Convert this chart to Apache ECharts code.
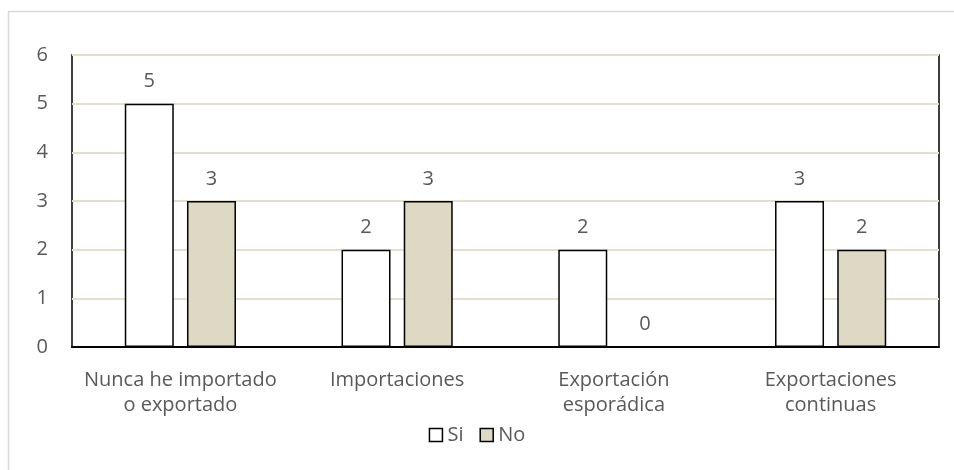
<!DOCTYPE html>
<html><head><meta charset="utf-8">
<script src="https://cdn.jsdelivr.net/npm/echarts@6/dist/echarts.min.js"></script>
<style>html,body{margin:0;padding:0;background:#fff}#c{width:954px;height:470px}</style>
</head><body><div id="c"></div>
<script>
const categories = ["Nunca he importado\no exportado", "Importaciones", "Exportación\nesporádica", "Exportaciones\ncontinuas"];
const siValues = [5, 2, 2, 3];
const noValues = [3, 3, 0, 2];
const yTicks = [0, 1, 2, 3, 4, 5, 6];

const font = "'Open Sans', sans-serif";
const txt = "#595959";
const fs = 20;
const chart = echarts.init(document.getElementById('c'), null, {renderer: 'canvas'});
chart.setOption({
  animation: false,
  textStyle: {fontFamily: font},
  graphic: [{type: 'rect', shape: {x: 8.5, y: 11.5, width: 960, height: 470}, style: {fill: 'none', stroke: '#d9d9d9', lineWidth: 1.5}, silent: true}],
  grid: {left: 72, right: 15, top: 55, bottom: 123, show: true, borderColor: '#000', borderWidth: 1.5, backgroundColor: 'transparent'},
  legend: {
    bottom: 20, left: 'center', itemWidth: 13, itemHeight: 13, itemGap: 16,
    textStyle: {color: txt, fontSize: fs, fontFamily: font, padding: [0, 0, 0, 0]},
    data: [{name: 'Si', icon: 'rect', itemStyle: {color: '#fff', borderColor: '#000', borderWidth: 1.5}},
           {name: 'No', icon: 'rect', itemStyle: {color: '#ddd9c4', borderColor: '#000', borderWidth: 1.5}}]
  },
  xAxis: {
    type: 'category', data: categories,
    axisLine: {show: true, lineStyle: {color: '#000', width: 2}},
    axisTick: {show: false},
    axisLabel: {color: txt, fontSize: fs, fontFamily: font, margin: 21, lineHeight: 25, interval: 0}
  },
  yAxis: {
    type: 'value', min: 0, max: 6, interval: 1,
    axisLine: {show: false}, axisTick: {show: false},
    axisLabel: {color: txt, fontSize: fs, fontFamily: font, margin: 24,
      formatter: v => yTicks.includes(v) ? String(v) : ''},
    splitLine: {lineStyle: {color: '#e3dfcc', width: 2}}
  },
  series: [
    {name: 'Si', type: 'bar', data: siValues, barWidth: '22.6%', barGap: '27%',
     itemStyle: {color: '#fff', borderColor: '#000', borderWidth: 1.5},
     label: {show: true, position: 'top', distance: 12, color: txt, fontSize: fs, fontFamily: font}},
    {name: 'No', type: 'bar', data: noValues, barWidth: '22.6%', barGap: '27%',
     itemStyle: {color: '#ddd9c4', borderColor: '#000', borderWidth: 1.5},
     label: {show: true, position: 'top', distance: 12, color: txt, fontSize: fs, fontFamily: font}}
  ]
});
</script></body></html>
